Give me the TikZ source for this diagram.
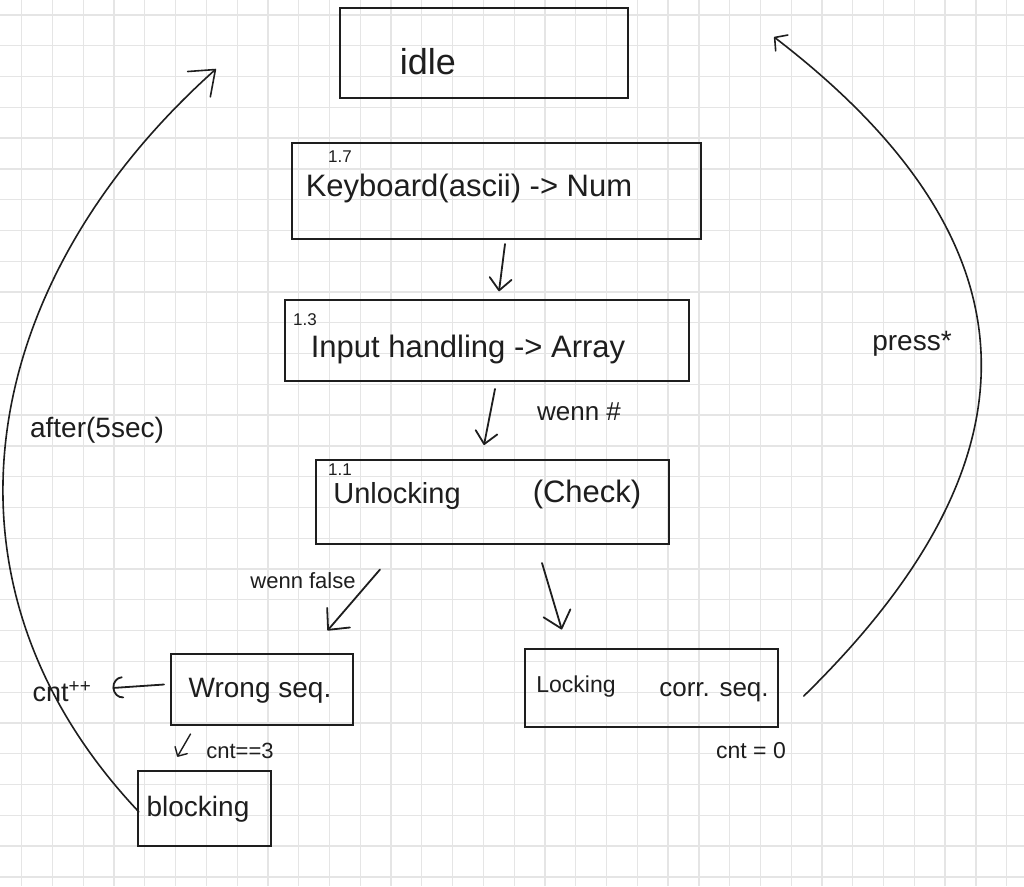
\documentclass[tikz,border=0pt]{standalone}
\usepackage{fontspec}
\setmainfont{Liberation Sans}
\usetikzlibrary{arrows.meta}
\definecolor{ink}{HTML}{1E1E1E}
\definecolor{gridgray}{HTML}{E5E5E5}

\begin{document}
\begin{tikzpicture}[x=1pt,y=-1pt,
  gridline/.style={draw=gridgray,line width=1.3pt},
  statebox/.style={draw=ink,line width=2pt,rectangle,inner sep=0pt},
  hand/.style={text=ink,inner sep=0pt,font=\fontsize{#1}{#1}\selectfont},
  hand/.default=30,
  arr/.style={draw=ink,line width=1.8pt,line cap=round,
    -{Straight Barb[length=12pt,width=22pt,round]}},
]
\useasboundingbox (0,0) rectangle (1024,886);
\fill[white] (0,0) rectangle (1024,886);

% squared paper
\foreach \i in {0,...,32}
  \draw[gridline] ({21.7+30.78*\i},0) -- ({21.7+30.78*\i},886);
\foreach \j in {0,...,28}
  \draw[gridline] (0,{15+30.78*\j}) -- (1024,{15+30.78*\j});

% states
\node[statebox,minimum width=288pt,minimum height=90pt] (idle)   at (484,53)    {};
\node[statebox,minimum width=409pt,minimum height=96pt] (kbd)    at (496.5,191) {};
\node[statebox,minimum width=404pt,minimum height=81pt] (input)  at (487,340.5) {};
\node[statebox,minimum width=353pt,minimum height=84pt] (unlock) at (492.5,502) {};
\node[statebox,minimum width=182pt,minimum height=71pt] (wrong)  at (261.5,689.5) {};
\node[statebox,minimum width=133pt,minimum height=75pt] (block)  at (204.3,808.8) {};
\node[statebox,minimum width=253pt,minimum height=78pt] (lock)   at (651.3,687.5) {};

% texts inside the states
\node[hand=36] (idleTxt)  at (428,62)  {idle};
\node[hand=31] (kbdTxt)   at (469,188) {Keyboard(ascii) -> Num};
\node[hand=17] (kbdNum)   at (340,157) {1.7};
\node[hand=31] (inputTxt) at (468,349) {Input handling -> Array};
\node[hand=17] (inputNum) at (305,320) {1.3};
\node[hand=29] (unlTxt)   at (397,496) {Unlocking};
\node[hand=31] (chkTxt)   at (587,494) {(Check)};
\node[hand=17] (unlNum)   at (340,470) {1.1};
\node[hand=28] (wrongTxt) at (260,691) {Wrong seq.};
\node[hand=28] (blockTxt) at (198,809) {blocking};
\node[hand=23] (lockTxt)  at (576,687) {Locking};
\node[hand=26] (corrTxt)  at (714,692) {corr. seq.};

% transition labels
\node[hand=26] (wennHash)  at (579,412) {wenn \#};
\node[hand=22] (wennFalse) at (303,581) {wenn false};
\node[hand=27] (cntinc)    at (62,692)  {cnt\textsuperscript{++}};
\node[hand=22] (cntThree)  at (240,751) {cnt==3};
\node[hand=23] (cntZero)   at (751,751) {cnt = 0};
\node[hand=28] (afterTxt)  at (97,430)  {after(5sec)};
\node[hand=28] (pressTxt)  at (912,344) {press*};

% transitions
\draw[arr] ([xshift=8.5pt,yshift=-4pt]kbd.south) -- ([xshift=12pt,yshift=7.7pt]input.north);
\draw[arr] ([xshift=8pt,yshift=-7pt]input.south) -- ([xshift=-8.5pt,yshift=14pt]unlock.north);
\draw[arr,-{Straight Barb[length=16pt,width=30pt,round]}]
  ([xshift=-112.5pt,yshift=-24.5pt]unlock.south) -- ([xshift=66pt,yshift=22.5pt]wrong.north);
\draw[arr,-{Straight Barb[length=16pt,width=28pt,round]}]
  ([xshift=49.5pt,yshift=-18pt]unlock.south) -- ([xshift=-89.5pt,yshift=18pt]lock.north);
\draw[arr,-{Arc Barb[length=10pt,width=22pt,round]}]
  ([xshift=-5.5pt,yshift=5pt]wrong.west) -- ([xshift=21pt,yshift=4pt]cntinc.east);
\draw[arr,line width=1.4pt,-{Straight Barb[length=7pt,width=14pt,round]}]
  ([xshift=-71pt,yshift=-8pt]wrong.south) -- ([xshift=-27pt,yshift=13.5pt]block.north);

% returns to idle
\draw[arr,line width=1.6pt,-{Straight Barb[length=22pt,width=34pt,round]}]
  ([xshift=2pt,yshift=-3pt]block.west)
  .. controls (-80,580) and (-20,280) .. ([xshift=-123pt,yshift=-16pt]idle.west);
\draw[arr,line width=1.6pt,-{Straight Barb[length=9pt,width=20pt,round]}]
  ([xshift=25pt,yshift=-8.5pt]lock.east)
  .. controls (1045,460) and (1045,245) .. ([xshift=145pt,yshift=16pt]idle.east);
\end{tikzpicture}
\end{document}
